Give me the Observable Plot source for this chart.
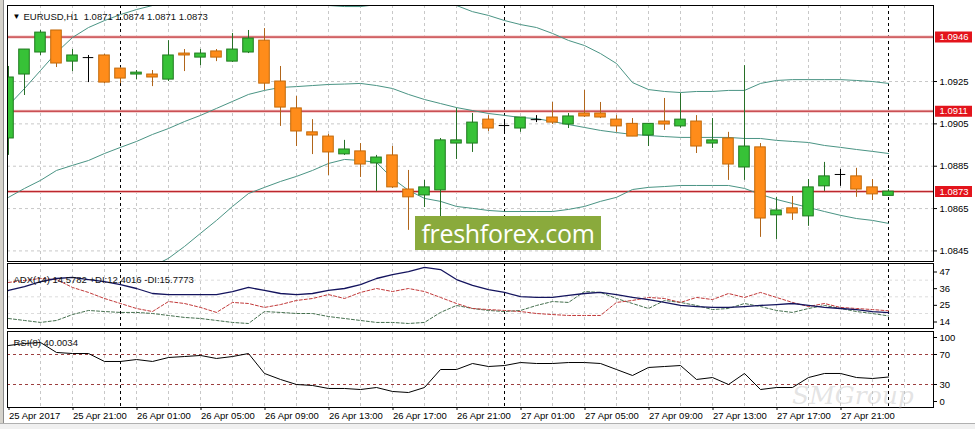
<!DOCTYPE html>
<html><head><meta charset="utf-8">
<script src="https://cdn.jsdelivr.net/npm/d3@7"></script>
<script src="https://cdn.jsdelivr.net/npm/@observablehq/plot@0.6"></script>
<style>
html,body{margin:0;padding:0;background:#fff;}
#wrap{position:relative;width:975px;height:429px;overflow:hidden;background:#fff;font-family:"Liberation Sans",Arial,sans-serif;}
.panel{position:absolute;left:0;}
.panel svg{display:block;}
#leftbar{position:absolute;left:0;top:0;width:3px;height:429px;background:#d6d3cc;border-right:1px solid #8a8a8a;}
#bottombar{position:absolute;left:0;top:423px;width:975px;height:6px;background:#f0f0f0;border-top:1px solid #b0b0b0;}
#ff{position:absolute;left:415px;top:216px;width:186px;height:34px;background:#8aaa3c;color:#fff;font-family:"Open Sans",sans-serif;font-size:25px;line-height:34px;text-align:center;letter-spacing:-0.3px;}
#smg{position:absolute;left:792px;top:383px;font-family:"DejaVu Serif",serif;font-style:italic;font-size:25px;line-height:25px;color:rgba(185,185,185,0.4);white-space:nowrap;}
</style></head>
<body><div id="wrap">
<div id="main" class="panel" style="top:0px"></div>
<div id="adxp" class="panel" style="top:262px"></div>
<div id="rsip" class="panel" style="top:329px"></div>
<div id="ff">freshforex.com</div>
<div id="smg">SMGroup</div>
<div id="leftbar"></div>
<div id="bottombar"></div>
</div>
<script>
// ---- data (EURUSD H1, bars from 25 Apr 17:00 to 28 Apr 00:00) ----
const open  = [1.08981,1.09283,1.09387,1.09491,1.09344,1.09363,1.09373,1.09311,1.09283,1.09283,
               1.09259,1.09382,1.09363,1.09392,1.09344,1.09387,1.09443,1.09250,1.09123,1.09010,
               1.08990,1.08906,1.08920,1.08863,1.08901,1.08740,1.08712,1.08736,1.08957,1.08957,
               1.09070,1.09042,1.09028,1.09070,1.09080,1.09047,1.09099,1.09099,1.09070,1.09050,
               1.08995,1.09061,1.09038,1.09061,1.08957,1.08981,1.08844,1.08939,1.08618,1.08651,
               1.08613,1.08755,1.08811,1.08802,1.08750,1.0871];
const high  = [1.09321,1.09401,1.09491,1.09491,1.09401,1.09373,1.09378,1.09316,1.09302,1.09302,
               1.09443,1.09401,1.09401,1.09401,1.09477,1.09491,1.09500,1.09321,1.09179,1.09070,
               1.09000,1.08972,1.08957,1.08901,1.08943,1.08830,1.08783,1.08981,1.09123,1.09099,
               1.09089,1.09070,1.09080,1.09089,1.09151,1.09099,1.09208,1.09151,1.09089,1.09075,
               1.09050,1.09170,1.09193,1.09089,1.09075,1.09010,1.09325,1.08957,1.08703,1.08707,
               1.08787,1.08868,1.08835,1.08840,1.08787,1.0874];
const low   = [1.08901,1.09184,1.09373,1.09316,1.09297,1.09245,1.09240,1.09240,1.09259,1.09226,
               1.09250,1.09297,1.09325,1.09344,1.09340,1.09382,1.09208,1.09038,1.08943,1.08905,
               1.08806,1.08901,1.08797,1.08731,1.08745,1.08547,1.08655,1.08608,1.08882,1.08915,
               1.09014,1.09014,1.09010,1.09056,1.09047,1.09028,1.09080,1.09075,1.09010,1.08990,
               1.08943,1.09019,1.09030,1.08910,1.08934,1.08783,1.08783,1.08514,1.08504,1.08594,
               1.08566,1.08731,1.08755,1.08703,1.08688,1.0871];
const close = [1.09269,1.09401,1.09481,1.09335,1.09373,1.09363,1.09245,1.09264,1.09292,1.09269,
               1.09373,1.09373,1.09382,1.09363,1.09401,1.09453,1.09240,1.09127,1.09014,1.08995,
               1.08915,1.08929,1.08858,1.08891,1.08750,1.08703,1.08750,1.08972,1.08972,1.09056,
               1.09028,1.09042,1.09080,1.09070,1.09056,1.09085,1.09085,1.09080,1.09038,1.08990,
               1.09050,1.09047,1.09070,1.08943,1.08972,1.08858,1.08943,1.08603,1.08641,1.08627,
               1.08750,1.08802,1.08811,1.08740,1.08717,1.0873];

const bbUpper = [1.09137,1.09217,1.09302,1.09387,1.09458,1.09505,1.09538,1.09566,1.09590,1.09609,
                 1.09623,1.09632,1.09647,1.09656,1.09661,1.09661,1.09656,1.09651,1.09642,1.09628,
                 1.09609,1.09604,1.09604,1.09613,1.09618,1.09623,1.09623,1.09618,1.09609,1.09580,
                 1.09562,1.09538,1.09519,1.09505,1.09477,1.09444,1.09420,1.09382,1.09335,1.09245,
                 1.09212,1.09203,1.09198,1.09203,1.09203,1.09208,1.09208,1.09241,1.09255,1.09259,
                 1.09259,1.09259,1.09259,1.09255,1.09250,1.09241];
const bbMiddle = [1.08703,1.08745,1.08783,1.08830,1.08854,1.08877,1.08910,1.08939,1.08967,1.09000,
                  1.09028,1.09061,1.09090,1.09123,1.09156,1.09189,1.09208,1.09222,1.09226,1.09231,
                  1.09236,1.09238,1.09241,1.09231,1.09217,1.09189,1.09165,1.09146,1.09127,1.09113,
                  1.09099,1.09090,1.09080,1.09075,1.09061,1.09047,1.09033,1.09019,1.09009,1.09000,
                  1.08995,1.08990,1.08986,1.08986,1.08986,1.08986,1.08981,1.08981,1.08972,1.08967,
                  1.08962,1.08948,1.08939,1.08929,1.08920,1.08910];
const bbLower = [1.08268,1.08264,1.08254,1.08249,1.08249,1.08249,1.08278,1.08311,1.08344,1.08377,
                 1.08415,1.08471,1.08533,1.08594,1.08660,1.08721,1.08750,1.08778,1.08802,1.08830,
                 1.08863,1.08882,1.08877,1.08868,1.08792,1.08736,1.08698,1.08684,1.08660,1.08651,
                 1.08641,1.08636,1.08636,1.08636,1.08636,1.08646,1.08660,1.08684,1.08703,1.08740,
                 1.08750,1.08754,1.08759,1.08759,1.08759,1.08759,1.08745,1.08717,1.08693,1.08674,
                 1.08655,1.08636,1.08618,1.08603,1.08594,1.08580];

const adx     = [29.2,31.8,35.1,37.1,37.8,36.4,35.1,33.1,30.5,27.2,
                 26.5,26.5,26.5,26.5,28.5,31.2,29.2,27.2,26.5,27.2,
                 29.2,30.5,33.1,37.1,39.7,41.7,44.4,43.0,36.4,32.5,
                 29.8,27.9,25.2,24.6,24.6,25.9,27.2,27.9,26.5,24.6,
                 23.2,21.3,19.3,18.6,18.0,18.0,18.6,19.3,19.9,20.6,
                 19.3,18.0,17.3,16.6,15.3,14.5782];
const plusDI  = [10.7,9.4,8.1,9.4,13.3,16.0,15.3,14.7,14.7,14.0,
                 12.7,11.4,10.7,9.4,8.1,7.4,15.3,14.7,14.0,14.0,
                 12.0,10.7,9.4,8.1,8.1,7.4,8.1,14.7,19.3,17.3,
                 16.0,15.3,16.0,19.3,21.9,21.3,28.5,27.9,23.9,20.6,
                 17.3,22.6,21.3,19.3,16.6,17.3,20.6,18.6,16.0,14.7,
                 17.3,19.3,17.3,15.3,14.0,12.4016];
const minusDI = [34.5,35.8,37.1,36.4,31.2,27.9,23.9,20.6,17.3,15.3,
                 21.9,20.6,18.0,14.7,21.3,20.6,18.0,19.9,22.6,23.9,
                 26.5,23.9,27.9,30.5,28.5,30.5,28.5,24.6,20.6,17.3,
                 16.6,16.0,15.3,14.0,13.3,12.7,12.7,12.7,21.3,22.6,
                 24.6,23.9,21.3,24.6,23.2,27.2,24.6,27.9,24.6,21.3,
                 18.6,20.6,18.0,17.3,16.6,15.7773];
const rsi     = [82.0,84.7,86.0,72.7,71.3,71.3,60.7,60.7,63.3,60.7,
                 66.0,67.3,68.7,64.7,67.3,71.3,44.7,36.7,30.0,28.7,
                 24.7,24.7,23.3,26.0,20.7,19.3,26.0,50.0,50.0,58.0,
                 54.0,55.3,59.3,58.0,58.0,59.3,59.3,58.0,50.0,42.0,
                 52.7,54.0,55.3,36.7,39.3,30.0,44.7,23.3,26.0,26.0,
                 39.3,44.7,44.7,39.3,38.0,40.0034];

const levels = [1.0946, 1.0911, 1.0873];
const priceTicks = [1.0925, 1.0905, 1.0885, 1.0865, 1.0845];
const adxTicks = [47, 36, 25, 14];
const rsiTicks = [100, 70, 30, 0];
const rsiLevels = [70, 30];
const daySeparators = [7, 31, 55];
const timeTickBars = [0,4,8,12,16,20,24,28,32,36,40,44,48,52];
const timeLabels = ["25 Apr 2017","25 Apr 21:00","26 Apr 01:00","26 Apr 05:00","26 Apr 09:00","26 Apr 13:00",
                    "26 Apr 17:00","26 Apr 21:00","27 Apr 01:00","27 Apr 05:00","27 Apr 09:00","27 Apr 13:00",
                    "27 Apr 17:00","27 Apr 21:00"];
const headerText = "EURUSD,H1\u00a0\u00a01.0871 1.0874 1.0871 1.0873";
const adxText = "ADX(14) 14.5782 +DI:12.4016 -DI:15.7773";
const rsiText = "RSI(8) 40.0034";

// ---- build ----
const candles = open.map((o, i) => ({k: i, open: o, high: high[i], low: low[i], close: close[i]}));
const bands = bbMiddle.map((m, i) => ({k: i, upper: bbUpper[i], middle: m, lower: bbLower[i]}));
const ind = adx.map((a, i) => ({k: i, adx: a, plus: plusDI[i], minus: minusDI[i], rsi: rsi[i]}));
const gridBars = d3.range(2, 57, 2);

const W = 975, ML = 7, MR = 42;
const xDomain = [-0.0625, 57.8125];
const FONT = {fontFamily: '"Liberation Sans", Arial, sans-serif', fontSize: "9.5px", background: "transparent", color: "#000"};
const LABEL_FS = 9.5;
const HW = 0.33;
const upFill = "#37c237", upStroke = "#1f7a1f", dnFill = "#ff8c1a", dnStroke = "#c2690a";
const dir = d => d.close > d.open ? 1 : d.close < d.open ? -1 : 0;
const vgrid = () => Plot.ruleX(gridBars, {x: d => d, stroke: "#c8c8c8", strokeDasharray: "3,3"});
const seps = () => Plot.ruleX(daySeparators, {x: d => d, stroke: "#000", strokeDasharray: "3,3"});

const mainChart = Plot.plot({
  width: W, height: 262, marginLeft: ML, marginRight: MR, marginTop: 5, marginBottom: 1,
  x: {domain: xDomain, axis: null},
  y: {domain: [1.08400, 1.09609]},
  style: FONT,
  marks: [
    vgrid(),
    Plot.ruleY(priceTicks, {y: d => d, stroke: "#c8c8c8", strokeDasharray: "3,3"}),
    seps(),
    Plot.ruleY(levels, {y: d => d, stroke: "#f3c4c4", strokeWidth: 3}),
    Plot.ruleY(levels, {y: d => d, stroke: "#b5141a", strokeWidth: 1}),
    Plot.line(bands, {x: "k", y: "upper", stroke: "#4a9484", strokeWidth: 1, clip: true}),
    Plot.line(bands, {x: "k", y: "middle", stroke: "#4a9484", strokeWidth: 1, clip: true}),
    Plot.line(bands, {x: "k", y: "lower", stroke: "#4a9484", strokeWidth: 1, clip: true}),
    Plot.ruleX(candles, {x: "k", y1: "low", y2: "high", clip: true,
      stroke: d => dir(d) > 0 ? "#276f27" : dir(d) < 0 ? "#b0651a" : "#000"}),
    Plot.rect(candles.filter(d => dir(d) !== 0), {x1: d => d.k - HW, x2: d => d.k + HW, y1: "open", y2: "close", clip: true,
      fill: d => dir(d) > 0 ? upFill : dnFill, stroke: d => dir(d) > 0 ? upStroke : dnStroke, strokeWidth: 1}),
    Plot.ruleY(candles.filter(d => dir(d) === 0), {y: "open", x1: d => d.k - HW, x2: d => d.k + HW, stroke: "#000"}),
    Plot.frame({stroke: "#000"}),
    Plot.axisY({anchor: "right", ticks: priceTicks, tickFormat: d => d.toFixed(4), tickSize: 3, tickPadding: 3, label: null}),
    Plot.ruleY(levels, {y: d => d, x1: 57.94, x2: 60.25, stroke: "#e3141c", strokeWidth: 11}),
    Plot.text(levels, {y: d => d, x: 57.94, dx: 4, textAnchor: "start", text: d => d.toFixed(4), fill: "#fff"}),
    Plot.text(["\u25BC"], {frameAnchor: "top-left", dx: 5, dy: 8, textAnchor: "start", fontSize: 8, fill: "#000"}),
    Plot.text([headerText], {frameAnchor: "top-left", dx: 16, dy: 8, textAnchor: "start", fill: "#111", fontSize: LABEL_FS, text: d => d})
  ]
});
document.getElementById("main").appendChild(mainChart);

const adxChart = Plot.plot({
  width: W, height: 67, marginLeft: ML, marginRight: MR, marginTop: 1, marginBottom: 1,
  x: {domain: xDomain, axis: null},
  y: {domain: [14, 47], range: [51, 1]},
  style: FONT,
  marks: [
    vgrid(),
    Plot.ruleY([36, 25, 14], {y: d => d, stroke: "#dcdcdc", strokeDasharray: "3,3"}),
    seps(),
    Plot.line(ind, {x: "k", y: "plus", stroke: "#46704f", strokeWidth: 1, strokeDasharray: "3,2"}),
    Plot.line(ind, {x: "k", y: "minus", stroke: "#c23a3a", strokeWidth: 1, strokeDasharray: "3,2"}),
    Plot.line(ind, {x: "k", y: "adx", stroke: "#14145e", strokeWidth: 1.3}),
    Plot.frame({stroke: "#000"}),
    Plot.axisY({anchor: "right", ticks: adxTicks, tickSize: 3, tickPadding: 3, dy: 8.5, label: null}),
    Plot.text([adxText], {frameAnchor: "top-left", dx: 6, dy: 12.5, textAnchor: "start", fill: "#111", fontSize: LABEL_FS, text: d => d})
  ]
});
document.getElementById("adxp").appendChild(adxChart);

const rsiChart = Plot.plot({
  width: W, height: 100, marginLeft: ML, marginRight: MR, marginTop: 2, marginBottom: 22,
  x: {domain: xDomain},
  y: {domain: [30, 70], range: [55, 25]},
  style: FONT,
  marks: [
    vgrid(),
    seps(),
    Plot.ruleY(rsiLevels, {y: d => d, stroke: "#9c3f3f", strokeDasharray: "3,3"}),
    Plot.line(ind, {x: "k", y: "rsi", stroke: "#000", strokeWidth: 1}),
    Plot.frame({stroke: "#000"}),
    Plot.axisY({anchor: "right", ticks: rsiTicks.filter(t => t > 0 && t < 100), tickSize: 3, tickPadding: 3, label: null}),
    Plot.axisY({anchor: "right", ticks: rsiTicks.filter(t => t === 100), tickSize: 3, tickPadding: 3, dy: 5.5, label: null}),
    Plot.axisY({anchor: "right", ticks: rsiTicks.filter(t => t === 0), tickSize: 3, tickPadding: 3, dy: -5.5, label: null}),
    Plot.axisX({anchor: "bottom", ticks: timeTickBars, tickSize: 3, tickPadding: 2, textAnchor: "start", dx: 0.5,
      tickFormat: d => timeLabels[timeTickBars.indexOf(d)], label: null}),
    Plot.text([rsiText], {frameAnchor: "top-left", dx: 6, dy: 8, textAnchor: "start", fill: "#111", fontSize: LABEL_FS, text: d => d})
  ]
});
document.getElementById("rsip").appendChild(rsiChart);
</script>
</body></html>
